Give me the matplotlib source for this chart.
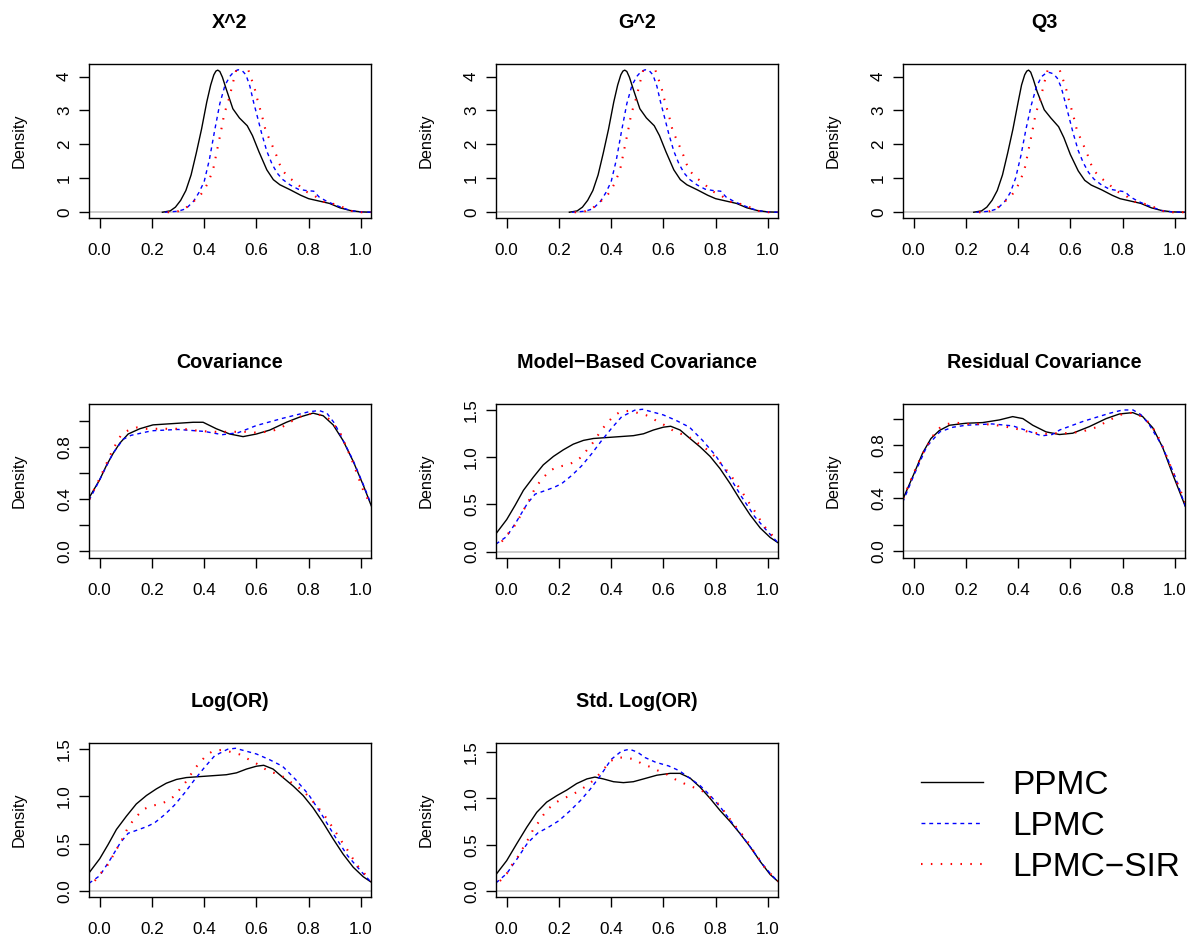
import matplotlib
matplotlib.use("Agg")
import matplotlib.pyplot as plt

plt.rcParams['font.family'] = ['Liberation Sans', 'DejaVu Sans']
plt.rcParams['lines.scale_dashes'] = False

MINUS = '\u2212'
methods = ['PPMC', 'LPMC', 'LPMC' + MINUS + 'SIR']
titles = ['X^2', 'G^2', 'Q3', 'Covariance', 'Model' + MINUS + 'Based Covariance',
          'Residual Covariance', 'Log(OR)', 'Std. Log(OR)']

# --- X^2 ---
x2_ppmc_x = [0.24, 0.27, 0.29, 0.31, 0.33, 0.35, 0.37, 0.39, 0.41, 0.425, 0.437, 0.445, 0.452, 0.46, 0.47,
             0.485, 0.51, 0.535, 0.565, 0.585, 0.61, 0.64, 0.665, 0.69, 0.73, 0.77, 0.80, 0.84, 0.88, 0.92,
             0.96, 1.00, 1.04]
x2_ppmc_y = [0.0, 0.04, 0.15, 0.35, 0.64, 1.10, 1.75, 2.45, 3.25, 3.75, 4.05, 4.16, 4.19, 4.15, 3.98,
             3.62, 3.05, 2.78, 2.55, 2.26, 1.78, 1.25, 0.96, 0.81, 0.66, 0.50, 0.40, 0.33, 0.26, 0.13,
             0.05, 0.01, 0.0]
x2_lpmc_x = [0.25, 0.30, 0.33, 0.36, 0.38, 0.40, 0.42, 0.44, 0.46, 0.48, 0.50, 0.515, 0.53, 0.545, 0.56,
             0.575, 0.59, 0.60, 0.62, 0.64, 0.66, 0.68, 0.70, 0.73, 0.76, 0.79, 0.82, 0.84, 0.87, 0.90, 0.93,
             0.96, 1.00, 1.04]
x2_lpmc_y = [0.0, 0.03, 0.10, 0.33, 0.58, 0.90, 1.55, 2.40, 3.20, 3.75, 4.02, 4.15, 4.20, 4.18, 4.05,
             3.72, 3.22, 2.93, 2.33, 1.80, 1.42, 1.15, 0.97, 0.80, 0.68, 0.64, 0.62, 0.45, 0.32, 0.22, 0.13,
             0.05, 0.01, 0.0]
x2_sir_x = [0.26, 0.29, 0.326, 0.351, 0.379, 0.398, 0.414, 0.427, 0.437, 0.45, 0.464, 0.476, 0.485, 0.496,
            0.511, 0.521, 0.531, 0.545, 0.562, 0.572, 0.585, 0.595, 0.604, 0.612, 0.621, 0.636, 0.651, 0.664,
            0.677, 0.687, 0.70, 0.725, 0.753, 0.785, 0.824, 0.849, 0.881, 0.909, 0.939, 0.971, 1.00, 1.04]
x2_sir_y = [0.0, 0.0, 0.10, 0.27, 0.44, 0.63, 0.86, 1.11, 1.35, 1.85, 2.37, 2.86, 3.10, 3.37,
            3.84, 4.14, 4.35, 4.55, 4.35, 4.13, 3.84, 3.60, 3.32, 3.10, 2.86, 2.39, 2.14, 1.91,
            1.67, 1.45, 1.23, 1.02, 0.86, 0.63, 0.48, 0.32, 0.27, 0.22, 0.12, 0.02, 0.0, 0.0]

# --- G^2 (indistinguishable from X^2 in the picture) ---
g2_ppmc_x, g2_ppmc_y = list(x2_ppmc_x), list(x2_ppmc_y)
g2_lpmc_x, g2_lpmc_y = list(x2_lpmc_x), list(x2_lpmc_y)
g2_sir_x, g2_sir_y = list(x2_sir_x), list(x2_sir_y)

# --- Q3 ---
q3_ppmc_x = [0.23, 0.26, 0.28, 0.30, 0.32, 0.34, 0.36, 0.38, 0.40, 0.413, 0.425, 0.433, 0.44, 0.448, 0.458,
             0.473, 0.50, 0.525, 0.555, 0.575, 0.60, 0.63, 0.655, 0.68, 0.72, 0.76, 0.79, 0.83, 0.87, 0.91,
             0.95, 0.99, 1.04]
q3_ppmc_y = [0.0, 0.04, 0.15, 0.35, 0.64, 1.10, 1.75, 2.45, 3.25, 3.75, 4.05, 4.16, 4.19, 4.13, 3.92,
             3.55, 3.02, 2.78, 2.52, 2.20, 1.70, 1.22, 0.94, 0.80, 0.66, 0.50, 0.40, 0.33, 0.26, 0.13,
             0.05, 0.01, 0.0]
q3_lpmc_x = [0.24, 0.29, 0.32, 0.35, 0.37, 0.39, 0.41, 0.43, 0.45, 0.47, 0.49, 0.505, 0.52, 0.535, 0.55,
             0.565, 0.58, 0.59, 0.61, 0.63, 0.65, 0.67, 0.69, 0.72, 0.75, 0.78, 0.81, 0.83, 0.86, 0.89, 0.92,
             0.95, 0.99, 1.04]
q3_lpmc_y = [0.0, 0.03, 0.10, 0.33, 0.58, 1.00, 1.65, 2.45, 3.15, 3.70, 4.00, 4.09, 4.12, 4.08, 3.95,
             3.68, 3.25, 2.95, 2.35, 1.82, 1.45, 1.17, 0.98, 0.80, 0.68, 0.64, 0.60, 0.45, 0.32, 0.22, 0.13,
             0.05, 0.01, 0.0]
q3_sir_x = [0.25, 0.28, 0.316, 0.341, 0.369, 0.388, 0.404, 0.417, 0.427, 0.44, 0.454, 0.466, 0.475, 0.486,
            0.501, 0.511, 0.521, 0.535, 0.552, 0.562, 0.575, 0.585, 0.594, 0.602, 0.611, 0.626, 0.641, 0.654,
            0.667, 0.677, 0.69, 0.715, 0.743, 0.775, 0.814, 0.839, 0.871, 0.899, 0.929, 0.961, 0.99, 1.04]
q3_sir_y = list(x2_sir_y)

# --- Covariance ---
cov_ppmc_x = [-0.041, 0.0, 0.026, 0.051, 0.077, 0.109, 0.153, 0.204, 0.281, 0.358, 0.396, 0.447, 0.498,
              0.549, 0.60, 0.651, 0.715, 0.766, 0.817, 0.856, 0.894, 0.932, 0.971, 1.009, 1.04]
cov_ppmc_y = [0.41, 0.55, 0.66, 0.75, 0.83, 0.90, 0.94, 0.97, 0.98, 0.99, 0.99, 0.94, 0.90,
              0.88, 0.90, 0.93, 0.99, 1.03, 1.06, 1.04, 0.97, 0.85, 0.69, 0.51, 0.35]
cov_lpmc_x = [-0.041, 0.0, 0.05, 0.09, 0.12, 0.2, 0.3, 0.4, 0.47, 0.53, 0.6, 0.7, 0.8, 0.84, 0.87, 0.9,
              0.93, 0.97, 1.01, 1.04]
cov_lpmc_y = [0.39, 0.55, 0.75, 0.86, 0.89, 0.925, 0.935, 0.92, 0.895, 0.91, 0.965, 1.02, 1.07, 1.08, 1.06,
              0.98, 0.86, 0.70, 0.51, 0.36]
cov_sir_x = [-0.04, 0.0, 0.05, 0.084, 0.111, 0.142, 0.176, 0.212, 0.248, 0.281, 0.308, 0.341, 0.375, 0.409,
             0.442, 0.473, 0.507, 0.536, 0.57, 0.60, 0.639, 0.67, 0.70, 0.728, 0.78, 0.817, 0.847, 0.875,
             0.898, 0.923, 0.945, 0.971, 0.992, 1.009, 1.04]
cov_sir_y = [0.40, 0.56, 0.78, 0.90, 0.93, 0.95, 0.94, 0.94, 0.94, 0.94, 0.94, 0.935, 0.925, 0.92,
             0.917, 0.917, 0.917, 0.917, 0.917, 0.91, 0.917, 0.93, 0.955, 0.99, 1.045, 1.057, 1.045, 1.02,
             0.97, 0.90, 0.80, 0.675, 0.56, 0.47, 0.35]

# --- Model-Based Covariance ---
mbc_ppmc_x = [-0.041, 0.0, 0.032, 0.064, 0.102, 0.14, 0.179, 0.217, 0.255, 0.294, 0.332, 0.383, 0.434,
              0.485, 0.524, 0.562, 0.60, 0.628, 0.664, 0.702, 0.741, 0.779, 0.817, 0.856, 0.894, 0.932,
              0.971, 1.009, 1.041]
mbc_ppmc_y = [0.19, 0.34, 0.49, 0.65, 0.79, 0.92, 1.01, 1.08, 1.14, 1.18, 1.20, 1.21, 1.22,
              1.23, 1.25, 1.29, 1.32, 1.33, 1.29, 1.20, 1.11, 1.01, 0.88, 0.72, 0.55, 0.39,
              0.25, 0.15, 0.09]
mbc_lpmc_x = [-0.041, 0.0, 0.04, 0.079, 0.109, 0.14, 0.18, 0.21, 0.25, 0.287, 0.326, 0.364, 0.402, 0.44,
              0.49, 0.52, 0.56, 0.60, 0.65, 0.70, 0.75, 0.80, 0.85, 0.90, 0.95, 1.0, 1.04]
mbc_lpmc_y = [0.08, 0.16, 0.33, 0.51, 0.61, 0.64, 0.68, 0.72, 0.81, 0.91, 1.04, 1.18, 1.31, 1.43,
              1.50, 1.51, 1.48, 1.45, 1.39, 1.32, 1.18, 1.02, 0.81, 0.58, 0.37, 0.21, 0.09]
mbc_sir_x = [-0.019, 0.004, 0.026, 0.042, 0.059, 0.074, 0.091, 0.105, 0.124, 0.143, 0.169, 0.197, 0.23,
             0.261, 0.287, 0.307, 0.328, 0.347, 0.364, 0.387, 0.409, 0.434, 0.466, 0.501, 0.534, 0.562,
             0.594, 0.621, 0.648, 0.677, 0.709, 0.734, 0.762, 0.788, 0.811, 0.833, 0.856, 0.875, 0.894,
             0.913, 0.932, 0.951, 0.971, 0.99, 1.009, 1.026, 1.04]
mbc_sir_y = [0.106, 0.187, 0.254, 0.328, 0.413, 0.487, 0.572, 0.653, 0.73, 0.794, 0.865, 0.90, 0.918,
             0.953, 1.006, 1.077, 1.147, 1.225, 1.295, 1.37, 1.437, 1.482, 1.493, 1.472, 1.447, 1.405,
             1.359, 1.313, 1.264, 1.242, 1.20, 1.147, 1.094, 1.034, 0.964, 0.893, 0.819, 0.741, 0.664,
             0.582, 0.501, 0.424, 0.335, 0.258, 0.201, 0.141, 0.11]

# --- Residual Covariance ---
res_ppmc_x = [-0.042, 0.0, 0.034, 0.066, 0.098, 0.137, 0.2, 0.264, 0.328, 0.379, 0.418, 0.456, 0.507,
              0.558, 0.609, 0.673, 0.737, 0.788, 0.839, 0.877, 0.916, 0.954, 0.992, 1.04]
res_ppmc_y = [0.39, 0.58, 0.74, 0.85, 0.91, 0.95, 0.965, 0.97, 0.99, 1.015, 1.0, 0.95, 0.90,
              0.88, 0.89, 0.94, 1.0, 1.035, 1.045, 1.015, 0.93, 0.78, 0.58, 0.34]
res_lpmc_x = [-0.042, 0.0, 0.05, 0.1, 0.15, 0.2, 0.3, 0.38, 0.44, 0.49, 0.53, 0.56, 0.65, 0.75, 0.8, 0.84,
              0.87, 0.9, 0.95, 1.0, 1.04]
res_lpmc_y = [0.37, 0.57, 0.79, 0.90, 0.935, 0.95, 0.96, 0.945, 0.905, 0.87, 0.88, 0.915, 0.98, 1.04, 1.065,
              1.065, 1.03, 0.96, 0.80, 0.57, 0.34]
res_sir_x = [-0.04, 0.0, 0.03, 0.05, 0.08, 0.1, 0.13, 0.16, 0.2, 0.25, 0.3, 0.35, 0.4, 0.45, 0.5, 0.55, 0.6,
             0.65, 0.7, 0.75, 0.8, 0.84, 0.88, 0.9, 0.93, 0.96, 1.0, 1.04]
res_sir_y = [0.40, 0.59, 0.72, 0.79, 0.89, 0.93, 0.96, 0.97, 0.96, 0.96, 0.955, 0.94, 0.92, 0.895, 0.885,
             0.89, 0.89, 0.905, 0.935, 0.99, 1.035, 1.045, 1.01, 0.97, 0.89, 0.76, 0.56, 0.37]

# --- Log(OR) (same shape as Model-Based Covariance) ---
lor_ppmc_x, lor_ppmc_y = list(mbc_ppmc_x), list(mbc_ppmc_y)
lor_lpmc_x, lor_lpmc_y = list(mbc_lpmc_x), list(mbc_lpmc_y)
lor_sir_x, lor_sir_y = list(mbc_sir_x), list(mbc_sir_y)

# --- Std. Log(OR) ---
slor_ppmc_x = [-0.041, 0.0, 0.038, 0.077, 0.115, 0.153, 0.192, 0.23, 0.268, 0.307, 0.338, 0.37, 0.409,
               0.447, 0.485, 0.524, 0.575, 0.626, 0.664, 0.702, 0.741, 0.779, 0.817, 0.856, 0.894, 0.932,
               0.971, 1.009, 1.041]
slor_ppmc_y = [0.18, 0.33, 0.51, 0.69, 0.85, 0.96, 1.03, 1.09, 1.16, 1.21, 1.23, 1.21, 1.18,
               1.17, 1.18, 1.21, 1.25, 1.27, 1.27, 1.22, 1.12, 1.00, 0.87, 0.75, 0.62, 0.48,
               0.32, 0.18, 0.10]
slor_lpmc_x = [-0.041, 0.0, 0.04, 0.08, 0.12, 0.16, 0.2, 0.24, 0.28, 0.32, 0.36, 0.4, 0.44, 0.47, 0.5,
               0.53, 0.57, 0.62, 0.66, 0.7, 0.74, 0.78, 0.82, 0.86, 0.9, 0.94, 0.98, 1.01, 1.04]
slor_lpmc_y = [0.09, 0.19, 0.35, 0.52, 0.63, 0.69, 0.76, 0.86, 0.97, 1.10, 1.25, 1.42, 1.51, 1.53, 1.50,
               1.44, 1.39, 1.35, 1.30, 1.22, 1.14, 1.03, 0.90, 0.75, 0.60, 0.45, 0.29, 0.19, 0.10]
slor_sir_x = [-0.026, 0.0, 0.019, 0.038, 0.056, 0.07, 0.087, 0.102, 0.121, 0.14, 0.16, 0.185, 0.215, 0.245,
              0.275, 0.303, 0.33, 0.354, 0.373, 0.396, 0.425, 0.457, 0.489, 0.52, 0.549, 0.579, 0.607,
              0.635, 0.664, 0.696, 0.725, 0.756, 0.785, 0.811, 0.833, 0.854, 0.872, 0.891, 0.909, 0.93,
              0.948, 0.968, 0.987, 1.006, 1.028, 1.04]
slor_sir_y = [0.11, 0.19, 0.28, 0.35, 0.43, 0.51, 0.58, 0.67, 0.74, 0.82, 0.89, 0.95, 1.0, 1.03,
              1.08, 1.13, 1.19, 1.26, 1.32, 1.40, 1.44, 1.44, 1.42, 1.37, 1.34, 1.30, 1.27,
              1.22, 1.18, 1.14, 1.11, 1.07, 1.0, 0.94, 0.86, 0.78, 0.71, 0.66, 0.58, 0.51,
              0.42, 0.34, 0.26, 0.2, 0.14, 0.11]

panel_data = [
    [(x2_ppmc_x, x2_ppmc_y), (x2_lpmc_x, x2_lpmc_y), (x2_sir_x, x2_sir_y)],
    [(g2_ppmc_x, g2_ppmc_y), (g2_lpmc_x, g2_lpmc_y), (g2_sir_x, g2_sir_y)],
    [(q3_ppmc_x, q3_ppmc_y), (q3_lpmc_x, q3_lpmc_y), (q3_sir_x, q3_sir_y)],
    [(cov_ppmc_x, cov_ppmc_y), (cov_lpmc_x, cov_lpmc_y), (cov_sir_x, cov_sir_y)],
    [(mbc_ppmc_x, mbc_ppmc_y), (mbc_lpmc_x, mbc_lpmc_y), (mbc_sir_x, mbc_sir_y)],
    [(res_ppmc_x, res_ppmc_y), (res_lpmc_x, res_lpmc_y), (res_sir_x, res_sir_y)],
    [(lor_ppmc_x, lor_ppmc_y), (lor_lpmc_x, lor_lpmc_y), (lor_sir_x, lor_sir_y)],
    [(slor_ppmc_x, slor_ppmc_y), (slor_lpmc_x, slor_lpmc_y), (slor_sir_x, slor_sir_y)],
]

# y ranges and tick setups (R-style: ticks every step, some labels dropped)
ylims = [(-0.17, 4.37), (-0.17, 4.37), (-0.17, 4.37), (-0.05, 1.13), (-0.068, 1.566),
         (-0.05, 1.11), (-0.065, 1.566), (-0.062, 1.597)]
yticks_a = ([0, 1, 2, 3, 4], ['0', '1', '2', '3', '4'])
yticks_b = ([0, 0.2, 0.4, 0.6, 0.8, 1.0], ['0.0', '', '0.4', '', '0.8', ''])
yticks_c = ([0, 0.5, 1.0, 1.5], ['0.0', '0.5', '1.0', '1.5'])
yticks = [yticks_a, yticks_a, yticks_a, yticks_b, yticks_c, yticks_b, yticks_c, yticks_c]

styles = [dict(color='black', lw=1.0, ls='-'),
          dict(color='blue', lw=1.0, ls=(0, (2.8, 2.8))),
          dict(color='red', lw=1.5, ls=(0, (1.1, 6.0)))]

W, H = 1190, 940
fig = plt.figure(figsize=(W / 100, H / 100), dpi=100)

col_left = [89, 496, 903]
row_top = [64, 404, 743]
bw, bh = 282, 154

handles = []
for k, title in enumerate(titles):
    r, c = divmod(k, 3)
    ax = fig.add_axes([col_left[c] / W, 1 - (row_top[r] + bh) / H, bw / W, bh / H])
    ax.axhline(0, color='#C8C8C8', lw=1.3, zorder=1)
    lines = []
    for (xs, ys), st in zip(panel_data[k], styles):
        ln, = ax.plot(xs, ys, zorder=2, **st)
        lines.append(ln)
    handles = lines
    ax.set_xlim(-0.041, 1.039)
    ax.set_ylim(*ylims[k])
    ax.set_xticks([0, 0.2, 0.4, 0.6, 0.8, 1.0])
    ax.set_xticklabels(['0.0', '0.2', '0.4', '0.6', '0.8', '1.0'])
    ax.set_yticks(yticks[k][0])
    ax.set_yticklabels(yticks[k][1])
    ax.tick_params(direction='out', length=7.2, width=1.0, labelsize=12.3)
    ax.tick_params(axis='x', pad=10.5)
    ax.tick_params(axis='y', pad=5, labelrotation=90)
    for lab in ax.get_yticklabels():
        lab.set_verticalalignment('center')
    for sp in ax.spines.values():
        sp.set_linewidth(1.0)
    ax.set_ylabel('Density', fontsize=11.8, va='center')
    ax.yaxis.set_label_coords(-70 / bw, 0.5)
    ax.text(0.5, 1 + 41.5 / bh, title, transform=ax.transAxes, ha='center', va='center',
            fontsize=14.2, fontweight='bold')

fig.legend(handles, methods, loc='upper left', bbox_to_anchor=(921 / W, 1 - 770 / H),
           frameon=False, fontsize=24, handlelength=1.85, handletextpad=0.9,
           labelspacing=0.30, borderpad=0, borderaxespad=0)

fig.savefig('out.png', dpi=100)
